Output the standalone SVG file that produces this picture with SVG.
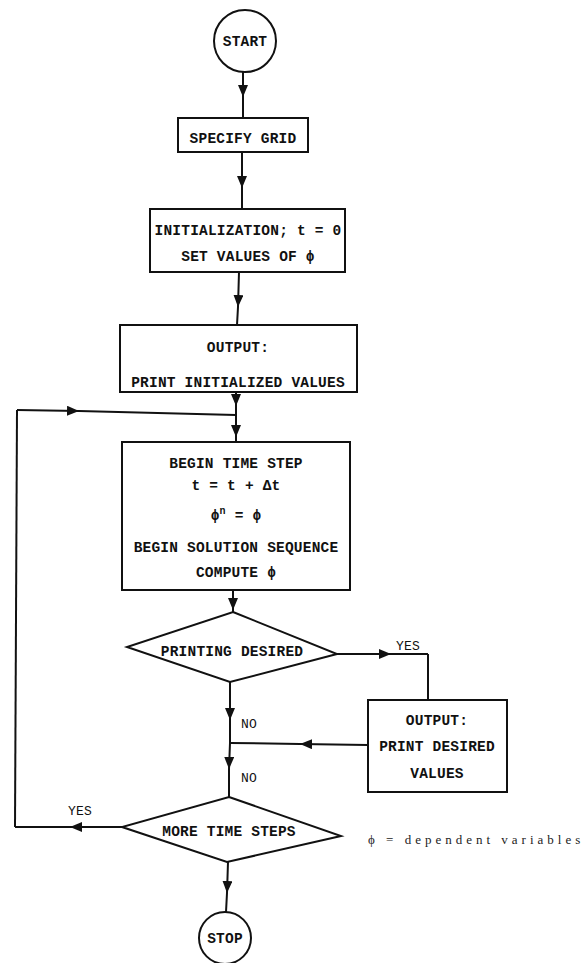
<svg xmlns="http://www.w3.org/2000/svg" width="587" height="963" viewBox="0 0 587 963">
  <style>
    .shape { fill: #fff; stroke: #111; stroke-width: 2; }
    .wire { fill: none; stroke: #111; stroke-width: 2; marker-mid: url(#head); }
    .plain { fill: none; stroke: #111; stroke-width: 2; }
    text { font-family: "Liberation Mono", "DejaVu Sans Mono", monospace; font-size: 14.5px; font-weight: bold; fill: #111; text-anchor: middle; letter-spacing: 0.2px; }
    .lbl { font-weight: normal; font-size: 13px; }
    .note { font-family: "Liberation Serif", "DejaVu Serif", serif; font-weight: normal; font-size: 13px; text-anchor: start; letter-spacing: 4px; fill: #222; }
  </style>
  <defs>
    <marker id="head" viewBox="0 0 12 10" refX="12" refY="5" markerWidth="12" markerHeight="10" markerUnits="userSpaceOnUse" orient="auto">
      <path d="M0,0 L12,5 L0,10 Z" fill="#111"/>
    </marker>
  </defs>

  <g id="connectors">
    <polyline class="wire" points="243,72 243,97 243,118"/>
    <polyline class="wire" points="242,152 242,188 242,210"/>
    <polyline class="wire" points="239,272 238,307 237,325"/>
    <polyline class="wire" points="236,392 236,406 236,415"/>
    <polyline class="wire" points="236,415 236,437 236,442"/>
    <!-- return loop from MORE TIME STEPS (YES) back to the top of the time step -->
    <polyline class="wire" points="122,827 70,827 15,827"/>
    <polyline class="plain" points="15,827 17,410"/>
    <polyline class="wire" points="17,410 79,411 236,415"/>
    <polyline class="wire" points="233,590 233,610 233,612"/>
    <polyline class="wire" points="337,654 391,654 428,654"/>
    <polyline class="plain" points="428,654 428,700"/>
    <polyline class="wire" points="230,682 230,720 230,743"/>
    <polyline class="wire" points="368,745 300,744 230,743"/>
    <polyline class="wire" points="230,743 229,769 229,797"/>
    <polyline class="wire" points="228,862 227,893 226,912"/>
  </g>

  <g id="start">
    <circle class="shape" cx="245" cy="41" r="31"/>
    <text x="245" y="46">START</text>
  </g>

  <g id="specify-grid">
    <rect class="shape" x="178" y="118" width="130" height="34"/>
    <text x="243" y="143">SPECIFY GRID</text>
  </g>

  <g id="initialization">
    <rect class="shape" x="150" y="209" width="195" height="63"/>
    <text x="248" y="235">INITIALIZATION; t = 0</text>
    <text x="248" y="261">SET VALUES OF ϕ</text>
  </g>

  <g id="output-initial">
    <rect class="shape" x="120" y="325" width="237" height="67"/>
    <text x="238" y="352">OUTPUT:</text>
    <text x="238" y="387">PRINT INITIALIZED VALUES</text>
  </g>

  <g id="time-step">
    <rect class="shape" x="122" y="442" width="228" height="148"/>
    <text x="236" y="468">BEGIN TIME STEP</text>
    <text x="236" y="490">t = t + Δt</text>
    <text x="236" y="520">ϕ<tspan dy="-6" font-size="10">n</tspan><tspan dy="6"> = ϕ</tspan></text>
    <text x="236" y="552">BEGIN SOLUTION SEQUENCE</text>
    <text x="236" y="577">COMPUTE ϕ</text>
  </g>

  <g id="printing-desired">
    <polygon class="shape" points="233,612 337,654 230,682 127,647"/>
    <text x="232" y="656">PRINTING DESIRED</text>
  </g>

  <g id="output-desired">
    <rect class="shape" x="368" y="700" width="139" height="92"/>
    <text x="437" y="725">OUTPUT:</text>
    <text x="437" y="751">PRINT DESIRED</text>
    <text x="437" y="778">VALUES</text>
  </g>

  <g id="more-time-steps">
    <polygon class="shape" points="229,797 341,836 227,862 122,827"/>
    <text x="229" y="836">MORE TIME STEPS</text>
  </g>

  <g id="stop">
    <circle class="shape" cx="225" cy="938" r="26"/>
    <text x="225" y="943">STOP</text>
  </g>

  <g id="labels">
    <text class="lbl" x="408" y="650">YES</text>
    <text class="lbl" x="249" y="728">NO</text>
    <text class="lbl" x="249" y="782">NO</text>
    <text class="lbl" x="80" y="815">YES</text>
    <text class="note" x="368" y="844">ϕ = dependent variables</text>
  </g>
</svg>
